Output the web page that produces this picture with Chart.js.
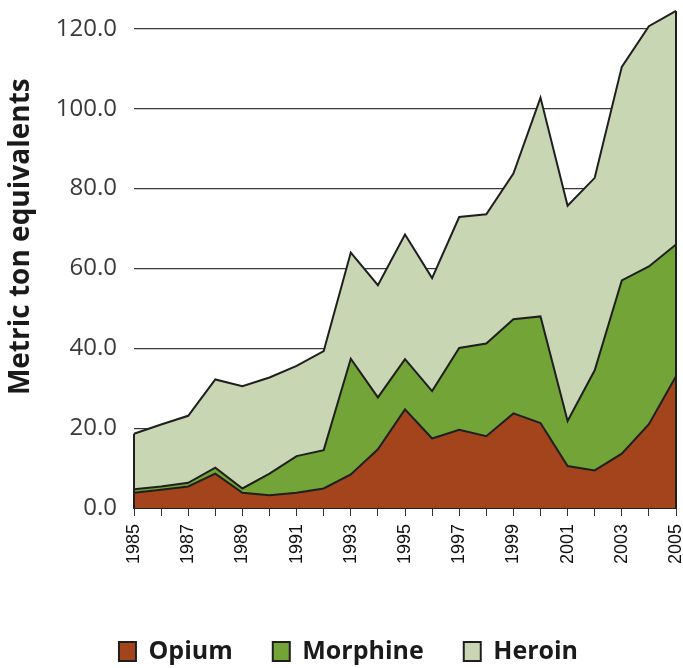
<!DOCTYPE html>
<html>
<head>
<meta charset="utf-8">
<script src="https://cdn.jsdelivr.net/npm/chart.js@4.4.1/dist/chart.umd.min.js"></script>
<style>
html,body{margin:0;padding:0;background:#fff;}
#wrap{width:683px;height:668px;}
</style>
</head>
<body>
<div id="wrap"><canvas id="c" width="683" height="668"></canvas></div>
<script>
// ---- data (metric ton equivalents) ----
const years = ['1985','1986','1987','1988','1989','1990','1991','1992','1993','1994','1995',
               '1996','1997','1998','1999','2000','2001','2002','2003','2004','2005'];
const opium    = [3.8, 4.6, 5.4, 8.6, 3.8, 3.2, 3.8, 4.9, 8.4, 14.7, 24.7, 17.4, 19.6, 18.0, 23.7, 21.3, 10.5, 9.4, 13.6, 21.0, 33.0];
const morphine = [0.9, 0.8, 0.9, 1.5, 1.1, 5.4, 9.2, 9.6, 29.0, 13.0, 12.6, 11.9, 20.5, 23.2, 23.6, 26.7, 11.3, 25.1, 43.4, 39.5, 33.0];
const heroin   = [13.9, 15.5, 16.8, 22.1, 25.6, 24.1, 22.6, 24.8, 26.6, 28.1, 31.2, 28.3, 32.8, 32.4, 36.5, 54.8, 53.9, 48.2, 53.5, 60.2, 58.5];
const xTickLabels = ['1985','','1987','','1989','','1991','','1993','','1995',
                     '','1997','','1999','','2001','','2003','','2005'];
const yTickValues = [0, 20, 40, 60, 80, 100, 120];
const seriesNames = ['Opium', 'Morphine', 'Heroin'];

// stacked tops (areas are drawn between successive totals)
const r1 = v => Math.round(v * 10) / 10;
const opiumTop    = opium.slice();
const morphineTop = opium.map((v, i) => r1(v + morphine[i]));
const heroinTop   = morphineTop.map((v, i) => r1(v + heroin[i]));

const OUTLINE = '#1f1f1f';
const FONT = "'Open Sans', 'Noto Sans', sans-serif";
const first = years[0], last = years[years.length - 1];

new Chart(document.getElementById('c'), {
  type: 'line',
  data: {
    labels: years,
    datasets: [
      { label: seriesNames[0], data: opiumTop, backgroundColor: '#a3441d', borderColor: OUTLINE,
        borderWidth: 2, fill: 'origin', pointRadius: 0, tension: 0, clip: false },
      { label: seriesNames[1], data: morphineTop, backgroundColor: '#72a437', borderColor: OUTLINE,
        borderWidth: 2, fill: '-1', pointRadius: 0, tension: 0, clip: false },
      { label: seriesNames[2], data: heroinTop, backgroundColor: '#c8d6b4', borderColor: OUTLINE,
        borderWidth: 2, fill: '-1', pointRadius: 0, tension: 0, clip: false },
      // outline edges of the stacked area at the first and last year
      { label: 'edgeL', data: [{x: first, y: 0}, {x: first, y: heroinTop[0]}], borderColor: OUTLINE,
        borderWidth: 2, fill: false, pointRadius: 0, clip: false, order: -1 },
      { label: 'edgeR', data: [{x: last, y: 0}, {x: last, y: heroinTop[heroinTop.length - 1]}], borderColor: OUTLINE,
        borderWidth: 2, fill: false, pointRadius: 0, clip: false, order: -1 }
    ]
  },
  options: {
    responsive: false,
    devicePixelRatio: 1,
    animation: false,
    layout: { padding: { top: 9, right: 0, left: 14, bottom: -6 } },
    plugins: {
      tooltip: { enabled: false },
      legend: {
        position: 'bottom',
        labels: {
          filter: item => item.datasetIndex < 3,
          font: { family: FONT, size: 25, weight: 'bold' },
          color: '#1a1a1a',
          boxWidth: 17,
          boxHeight: 19,
          padding: 40
        }
      }
    },
    scales: {
      x: {
        type: 'category',
        offset: false,
        grid: { display: true, drawOnChartArea: false, drawTicks: true, tickLength: 8, color: '#333', tickColor: '#333', lineWidth: 1 },
        border: { display: true, color: '#222', width: 2 },
        ticks: {
          autoSkip: false, maxRotation: 90, minRotation: 90, padding: 8,
          color: '#111',
          font: { family: "'Liberation Sans', Arial, sans-serif", size: 18 },
          callback: (v, i) => xTickLabels[i]
        },
        afterFit: s => { s.height = 91; s.paddingLeft = 0; s.paddingRight = 7; }
      },
      y: {
        type: 'linear',
        min: 0, max: 125,
        afterBuildTicks: s => { s.ticks = yTickValues.map(v => ({ value: v })); },
        grid: { display: true, drawTicks: false, color: '#3a3a3a', lineWidth: 1.2 },
        border: { display: false },
        ticks: {
          padding: 17,
          color: '#3a3a3a',
          font: { family: FONT, size: 24 },
          callback: v => Number(v).toFixed(1)
        },
        title: {
          display: true,
          text: '      Metric ton equivalents',
          color: '#1a1a1a',
          font: { family: FONT, size: 28, weight: 'bold' },
          padding: { top: -10, bottom: 0 }
        },
        afterFit: s => { s.width = 120; s.paddingTop = 0; s.paddingBottom = 0; }
      }
    }
  }
});
</script>
</body>
</html>
